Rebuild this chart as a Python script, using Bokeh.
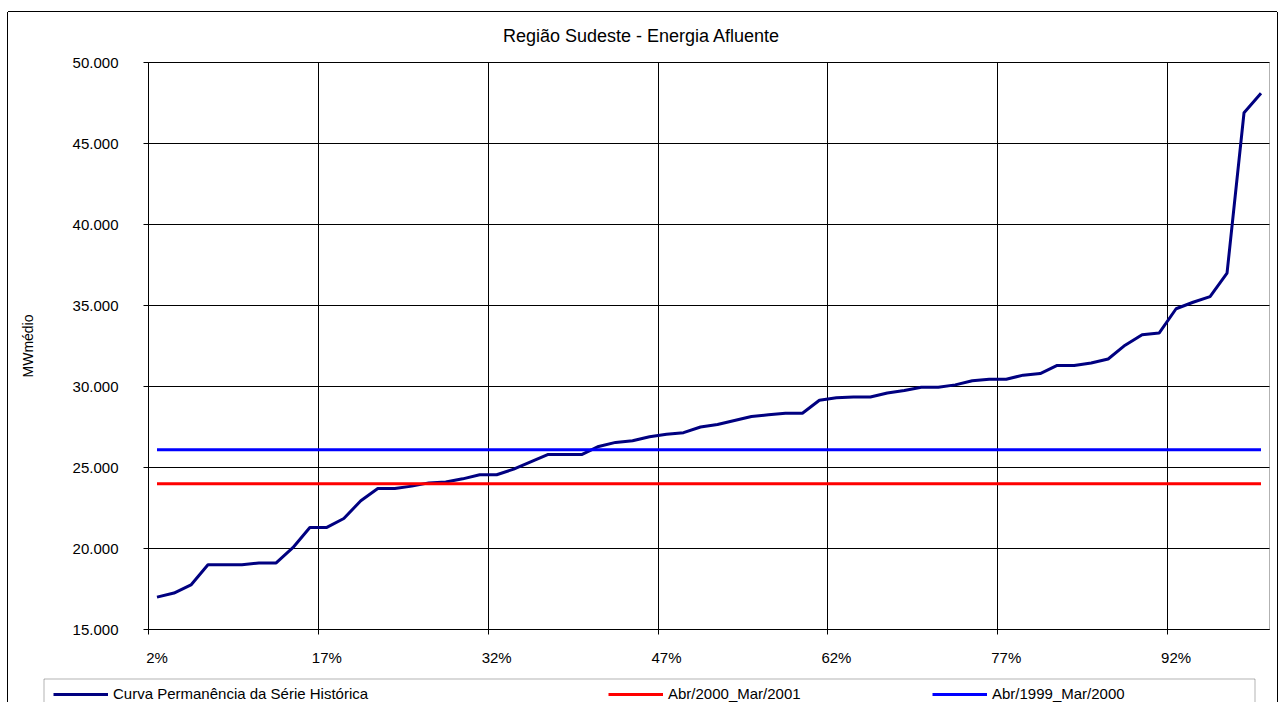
from bokeh.plotting import figure
from bokeh.models import Range1d, FixedTicker, Legend, LegendItem, Label, BoxAnnotation, Grid
from bokeh.embed import file_html
from bokeh.resources import INLINE

# ---------------- data ----------------
title_text = "Região Sudeste - Energia Afluente"
y_label = "MWmédio"

# permanence curve (MWmédio), 66 ordered values
curve = [17000, 17250, 17750, 19000, 19000, 19000, 19100, 19100, 20050, 21300,
         21300, 21850, 22950, 23700, 23700, 23850, 24050, 24100, 24300, 24550,
         24550, 24900, 25350, 25800, 25800, 25800, 26300, 26550, 26650, 26900,
         27050, 27150, 27500, 27650, 27900, 28150, 28250, 28350, 28350, 29150,
         29300, 29350, 29350, 29600, 29750, 29950, 29950, 30100, 30350, 30450,
         30450, 30700, 30800, 31300, 31300, 31450, 31700, 32550, 33200, 33300,
         34800, 35200, 35550, 37000, 46900, 48100]
red_value = 24000    # Abr/2000_Mar/2001
blue_value = 26100   # Abr/1999_Mar/2000

series_names = ["Curva Permanência da Série Histórica",
                "Abr/2000_Mar/2001",
                "Abr/1999_Mar/2000"]
series_colors = ["#000080", "#FF0000", "#0000FF"]

x_tick_pos = [0, 10, 20, 30, 40, 50, 60]
x_tick_labels = ["2%", "17%", "32%", "47%", "62%", "77%", "92%"]
y_ticks = [15000, 20000, 25000, 30000, 35000, 40000, 45000, 50000]
y_tick_labels = ["15.000", "20.000", "25.000", "30.000", "35.000", "40.000", "45.000", "50.000"]

# ---------------- layout constants (pixels) ----------------
FONT = "Liberation Sans"
W, H = 1269, 690
PL, PR, PT, PB = 140, 1261, 50, 617     # plot area inside the canvas
n = len(curve)
x = list(range(n))
x_lo, x_hi = -0.5, n - 0.5
y_lo, y_hi = y_ticks[0], y_ticks[-1]
kx = (PR - PL) / (x_hi - x_lo)
ky = (PB - PT) / (y_hi - y_lo)

p = figure(width=W, height=H, output_backend="svg", toolbar_location=None, title=None,
           x_range=Range1d(x_lo - PL / kx, x_hi + (W - PR) / kx),
           y_range=Range1d(y_lo - (H - PB) / ky, y_hi + PT / ky),
           min_border_left=0, min_border_right=0, min_border_top=0, min_border_bottom=0,
           margin=(12, 0, 0, 8),
           styles={"box-shadow": "-1px 0 0 0 black, 1px 0 0 0 black, 0 -1px 0 0 black"})
p.background_fill_color = "white"
p.border_fill_color = "white"
p.outline_line_color = None

# plot-area border
p.add_layout(BoxAnnotation(left=x_lo, right=x_hi, bottom=y_lo, top=y_hi,
                           fill_color=None, fill_alpha=0, line_color="black", line_width=1,
                           level="underlay"))

r_curve = p.line(x, curve, line_color=series_colors[0], line_width=3)
r_red = p.line(x, [red_value] * n, line_color=series_colors[1], line_width=3)
r_blue = p.line(x, [blue_value] * n, line_color=series_colors[2], line_width=3)

# x axis: labels at category centres, ticks/grid at category boundaries
xa = p.xaxis[0]
xa.fixed_location = y_lo
xa.bounds = (x_lo, x_hi)
xa.ticker = FixedTicker(ticks=x_tick_pos, minor_ticks=[t - 0.5 for t in x_tick_pos])
xa.major_label_overrides = {t: l for t, l in zip(x_tick_pos, x_tick_labels)}
xa.major_tick_out = 0
xa.major_tick_in = 0
xa.minor_tick_out = 5
xa.minor_tick_in = 0
xa.minor_tick_line_color = "black"
xa.axis_line_color = "black"
xa.major_label_standoff = 14
xa.major_label_text_font = FONT
xa.major_label_text_font_size = "15px"
xa.major_label_text_color = "black"

ya = p.yaxis[0]
ya.fixed_location = x_lo
ya.bounds = (y_lo, y_hi)
ya.ticker = FixedTicker(ticks=y_ticks)
ya.major_label_overrides = {t: l for t, l in zip(y_ticks, y_tick_labels)}
ya.major_tick_out = 5
ya.major_tick_in = 0
ya.minor_tick_line_color = None
ya.axis_line_color = "black"
ya.major_tick_line_color = "black"
ya.major_label_standoff = 25
ya.major_label_text_font = FONT
ya.major_label_text_font_size = "15px"
ya.major_label_text_color = "black"
ya.axis_label = y_label
ya.axis_label_text_font = FONT
ya.axis_label_text_font_size = "14px"
ya.axis_label_text_font_style = "normal"
ya.axis_label_text_color = "black"
ya.axis_label_standoff = 34

# grids limited to the plot area
has_cross = "cross_bounds" in Grid.properties()
xg = p.xgrid[0]
xg.grid_line_color = None
xg.minor_grid_line_color = "black"
xg.minor_grid_line_width = 1
xg.bounds = (x_lo - 1, x_hi + 1)
yg = p.ygrid[0]
yg.grid_line_color = "black"
yg.grid_line_width = 1
yg.bounds = (y_lo - 1000, y_hi + 1000)
if has_cross:
    xg.cross_bounds = (y_lo, y_hi)
    yg.cross_bounds = (x_lo, x_hi)
else:
    xg.minor_grid_line_color = None
    yg.grid_line_color = None
    gx = [t - 0.5 for t in x_tick_pos]
    p.segment(x0=gx, x1=gx, y0=[y_lo] * len(gx), y1=[y_hi] * len(gx), line_color="black",
              line_width=1, level="underlay")
    p.segment(x0=[x_lo] * len(y_ticks), x1=[x_hi] * len(y_ticks), y0=y_ticks, y1=y_ticks,
              line_color="black", line_width=1, level="underlay")

# title
p.add_layout(Label(x=633, y=H - 23, x_units="screen", y_units="screen", text=title_text,
                   text_align="center", text_baseline="middle", text_font=FONT,
                   text_font_size="18px", text_color="black"))

# legend box and the three legend entries
p.add_layout(BoxAnnotation(left=35.5, right=1246.5, top=H - 666.5, bottom=-10,
                           left_units="screen", right_units="screen",
                           top_units="screen", bottom_units="screen",
                           fill_color=None, fill_alpha=0, line_color="black", line_width=1))
for nm, r, lx in zip(series_names, [r_curve, r_red, r_blue], [45, 600, 924]):
    lg = Legend(items=[LegendItem(label=nm, renderers=[r])], location=(lx, 0),
                orientation="horizontal", border_line_alpha=0, background_fill_alpha=0,
                padding=0, margin=0, glyph_width=55, glyph_height=16, label_height=16,
                label_standoff=5, label_text_font=FONT, label_text_font_size="15px",
                label_text_color="black")
    p.add_layout(lg, "center")

open("out.html", "w").write(file_html(p, INLINE))
